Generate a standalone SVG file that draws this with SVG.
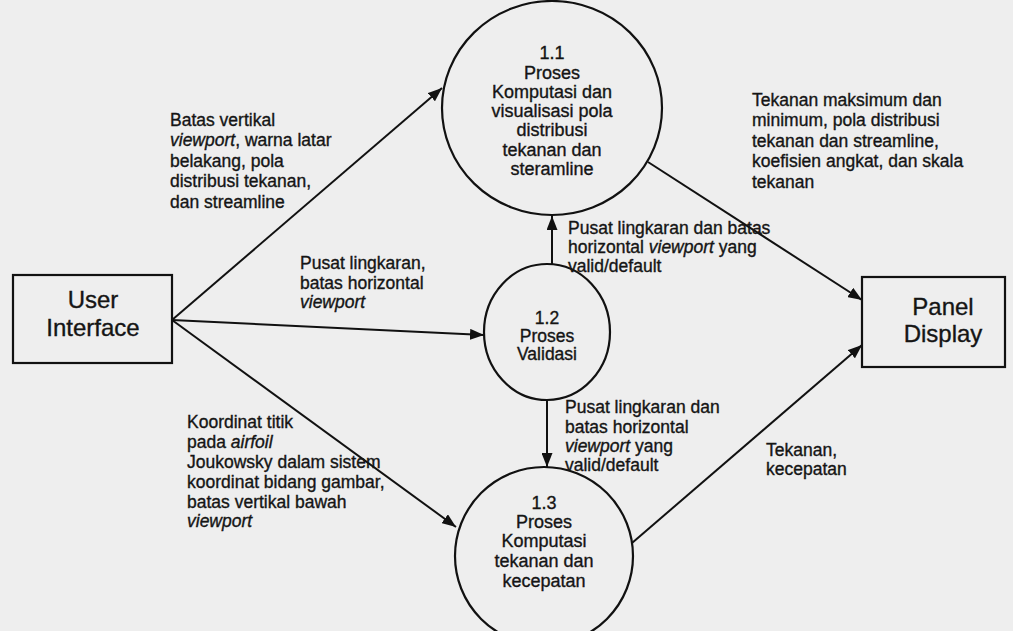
<svg xmlns="http://www.w3.org/2000/svg" width="1013" height="631" viewBox="0 0 1013 631">
<style>
.bg{fill:#eeeeee}
.node{fill:none;stroke:#111;stroke-width:2.2}
.conn{stroke:#111;stroke-width:2;fill:none;marker-end:url(#arr)}
text{font-family:"Liberation Sans",Arial,sans-serif;fill:#151515;stroke:#151515;stroke-width:0.35}
.t{font-size:17.5px}
.c{font-size:18px;text-anchor:middle}
.c2{font-size:17.5px;text-anchor:middle}
.big{font-size:24px;text-anchor:middle}
.i{font-style:italic}
</style>
<defs>
<marker id="arr" markerUnits="userSpaceOnUse" markerWidth="15" markerHeight="11" refX="14" refY="5.5" orient="auto">
<path d="M0,0 L14,5.5 L0,11 z" fill="#111"/>
</marker>
</defs>
<rect class="bg" x="0" y="0" width="1013" height="631"/>
<g id="connectors">
<line class="conn" x1="172" y1="320" x2="442" y2="88"/>
<line class="conn" x1="172" y1="320" x2="484" y2="335"/>
<line class="conn" x1="172" y1="320" x2="456" y2="527"/>
<line class="conn" x1="552" y1="264" x2="552" y2="216"/>
<line class="conn" x1="547" y1="399" x2="547" y2="467"/>
<line class="conn" x1="648" y1="162" x2="862" y2="300"/>
<line class="conn" x1="632" y1="543" x2="862" y2="345"/>
</g>
<g id="user-interface">
<rect class="node" x="13" y="275" width="159" height="88"/>
<text class="big" x="93" y="308">User</text>
<text class="big" x="93" y="336">Interface</text>
</g>
<g id="panel-display">
<rect class="node" x="862" y="277" width="143" height="90"/>
<text class="big" x="943" y="315">Panel</text>
<text class="big" x="943" y="342">Display</text>
</g>
<g id="p1-1">
<ellipse class="node" cx="552" cy="108" rx="110" ry="107"/>
<text class="c" x="552" y="59">1.1</text>
<text class="c" x="552" y="79">Proses</text>
<text class="c" x="552" y="98">Komputasi dan</text>
<text class="c" x="552" y="117">visualisasi pola</text>
<text class="c" x="552" y="136">distribusi</text>
<text class="c" x="552" y="156">tekanan dan</text>
<text class="c" x="552" y="175">steramline</text>
</g>
<g id="p1-2">
<ellipse class="node" cx="547" cy="332" rx="63" ry="68"/>
<text class="c2" x="547" y="324">1.2</text>
<text class="c2" x="547" y="342">Proses</text>
<text class="c2" x="547" y="360">Validasi</text>
</g>
<g id="p1-3">
<circle class="node" cx="544" cy="556" r="89"/>
<text class="c" x="544" y="509">1.3</text>
<text class="c" x="544" y="528">Proses</text>
<text class="c" x="544" y="547">Komputasi</text>
<text class="c" x="544" y="567">tekanan dan</text>
<text class="c" x="544" y="587">kecepatan</text>
</g>
<g id="labels">
<text class="t" x="170" y="126">Batas vertikal</text>
<text class="t" x="170" y="146"><tspan class="i">viewport</tspan>, warna latar</text>
<text class="t" x="170" y="167">belakang, pola</text>
<text class="t" x="170" y="187">distribusi tekanan,</text>
<text class="t" x="170" y="208">dan streamline</text>
<text class="t" x="752" y="106">Tekanan maksimum dan</text>
<text class="t" x="752" y="126">minimum, pola distribusi</text>
<text class="t" x="752" y="147">tekanan dan streamline,</text>
<text class="t" x="752" y="167">koefisien angkat, dan skala</text>
<text class="t" x="752" y="188">tekanan</text>
<text class="t" x="568" y="234">Pusat lingkaran dan batas</text>
<text class="t" x="568" y="253">horizontal <tspan class="i">viewport</tspan> yang</text>
<text class="t" x="568" y="272">valid/default</text>
<text class="t" x="300" y="269">Pusat lingkaran,</text>
<text class="t" x="300" y="289">batas horizontal</text>
<text class="t i" x="300" y="308">viewport</text>
<text class="t" x="565" y="413">Pusat lingkaran dan</text>
<text class="t" x="565" y="433">batas horizontal</text>
<text class="t" x="565" y="452"><tspan class="i">viewport</tspan> yang</text>
<text class="t" x="565" y="471">valid/default</text>
<text class="t" x="766" y="456">Tekanan,</text>
<text class="t" x="766" y="475">kecepatan</text>
<text class="t" x="187" y="428">Koordinat titik</text>
<text class="t" x="187" y="448">pada <tspan class="i">airfoil</tspan></text>
<text class="t" x="187" y="468">Joukowsky dalam sistem</text>
<text class="t" x="187" y="488">koordinat bidang gambar,</text>
<text class="t" x="187" y="508">batas vertikal bawah</text>
<text class="t i" x="187" y="527">viewport</text>
</g>
</svg>
